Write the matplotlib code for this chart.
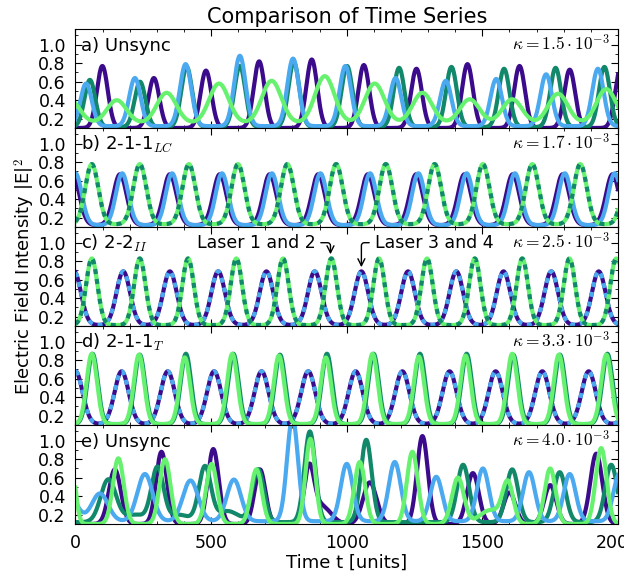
import numpy as np
import matplotlib
matplotlib.use("Agg")
import matplotlib.pyplot as plt
from matplotlib.ticker import MultipleLocator
from matplotlib.transforms import Bbox, TransformedBbox

plt.rcParams["mathtext.fontset"] = "cm"
plt.rcParams["xtick.direction"] = "in"
plt.rcParams["ytick.direction"] = "in"

PURPLE = "#3b0b8c"
TEAL = "#12886a"
BLUE = "#4aa9ef"
LGREEN = "#66f26e"

t = np.linspace(0, 2000, 4001)

# ---- peak times / peak heights ----
# a) Unsync, kappa = 1.5e-3
a_purple_t = [-95, 99, 289, 481, 677, 871, 1063, 1257, 1445, 1637, 1822, 2010]
a_purple_h = [0.5, 0.77, 0.64, 0.72, 0.82, 0.84, 0.78, 0.74, 0.79, 0.77, 0.73, 0.75]
a_teal_t = [53, 238, 410, 606, 805, 1001, 1193, 1386, 1580, 1770, 1950]
a_teal_h = [0.62, 0.6, 0.76, 0.77, 0.81, 0.77, 0.75, 0.76, 0.74, 0.75, 0.76]
a_blue_t = [39, 219, 406, 606, 802, 995, 1180, 1365, 1551, 1735, 1926]
a_blue_h = [0.58, 0.64, 0.79, 0.88, 0.85, 0.77, 0.64, 0.61, 0.63, 0.68, 0.74]
a_lgreen_t = [-20, 152, 336, 529, 723, 919, 1103, 1279, 1453, 1610, 1779, 1957]
a_lgreen_h = [0.4, 0.4, 0.48, 0.58, 0.61, 0.66, 0.58, 0.48, 0.41, 0.41, 0.47, 0.52]

# b) 2-1-1 LC, kappa = 1.7e-3
b_green_t = [60, 237, 418, 599, 781, 961, 1144, 1324, 1502, 1684, 1861, 2041]
b_green_h = [0.78] * 12
b_purple_t = [-10, 164, 348, 532, 716, 895, 1078, 1256, 1434, 1612, 1796, 1980]
b_purple_h = [0.67] * 12
b_blue_t = [0, 172, 356, 540, 724, 903, 1086, 1264, 1442, 1620, 1804, 1988]
b_blue_h = [0.68] * 12

# c) 2-2 II, kappa = 2.5e-3
c_green_t = [60, 237, 415, 593, 765, 943, 1119, 1296, 1472, 1647, 1821, 1993]
c_green_h = [0.83] * 12
c_purple_t = [-5, 176, 348, 526, 704, 882, 1054, 1226, 1404, 1578, 1754, 1929]
c_purple_h = [0.69] * 12

# d) 2-1-1 T, kappa = 3.3e-3
d_lgreen_t = [60, 234, 403, 578, 750, 923, 1095, 1266, 1438, 1610, 1782, 1957]
d_lgreen_h = [0.87, 0.86, 0.83, 0.87, 0.85, 0.83, 0.87, 0.84, 0.85, 0.87, 0.86, 0.86]
d_teal_t = [63, 237, 407, 582, 754, 927, 1099, 1270, 1442, 1614, 1786, 1961]
d_teal_h = [0.87, 0.86, 0.87, 0.87, 0.86, 0.87, 0.87, 0.87, 0.87, 0.86, 0.86, 0.87]
d_purple_t = [0, 170, 340, 511, 686, 858, 1033, 1205, 1379, 1549, 1721, 1892, 2064]
d_purple_h = [0.68] * 13

# e) Unsync, kappa = 4.0e-3
e_blue_t = [-25, 90, 256, 424, 584, 800, 1000, 1177, 1330, 1502, 1672, 1822, 2005]
e_blue_h = [0.42, 0.43, 0.64, 0.57, 0.58, 1.25, 0.75, 0.77, 0.61, 0.7, 0.66, 0.64, 0.64]
e_blue_w = [30, 30, 28, 28, 26, 20, 22, 22, 22, 22, 22, 22, 22]
e_purple_t = [145, 317, 508, 680, 861, 905, 1085, 1279, 1465, 1600, 1750, 1920]
e_purple_h = [0.69, 0.88, 0.91, 0.69, 0.66, 0.3, 0.55, 1.05, 0.65, 0.44, 0.52, 0.86]
e_purple_w = [22, 20, 20, 20, 18, 35, 25, 20, 22, 22, 22, 22]
e_teal_t = [121, 220, 302, 380, 477, 560, 673, 864, 1072, 1429, 1610, 1785, 1975]
e_teal_h = [0.58, 0.2, 0.7, 0.2, 0.71, 0.24, 0.69, 1.1, 1.01, 0.74, 0.69, 0.66, 0.74]
e_teal_w = [28, 40, 22, 40, 22, 40, 22, 20, 20, 22, 22, 22, 22]
e_lgreen_t = [-15, 158, 330, 502, 667, 866, 1048, 1242, 1410, 1530, 1594, 1750, 1938]
e_lgreen_h = [0.75, 0.81, 0.8, 0.75, 0.69, 1.02, 0.77, 0.88, 0.6, 0.25, 0.53, 0.7, 0.92]
e_lgreen_w = [15, 20, 20, 20, 20, 18, 20, 20, 22, 40, 20, 20, 20]

kappas = ["1.5", "1.7", "2.5", "3.3", "4.0"]
labels = ["a) Unsync", "b) 2-1-1$_{LC}$", "c) 2-2$_{II}$", "d) 2-1-1$_{T}$", "e) Unsync"]


def pulses(times, heights, width, base):
    widths = np.broadcast_to(width, len(times))
    y = np.full_like(t, base)
    for tc, h, w in zip(times, heights, widths):
        y += (h - base) * np.exp(-0.5 * ((t - tc) / w) ** 2)
    return y


fig, axes = plt.subplots(5, 1, figsize=(6.42, 5.76), dpi=100, sharex=True)
fig.subplots_adjust(left=0.1176, right=0.9626, top=0.9497, bottom=0.0903, hspace=0)
lw = 3
dash = (1.2, 1.2)

ax = axes[0]
ax.plot(t, pulses(a_purple_t, a_purple_h, 20, 0.1), color=PURPLE, lw=lw)
ax.plot(t, pulses(a_teal_t, a_teal_h, 20, 0.11), color=TEAL, lw=lw)
ax.plot(t, pulses(a_blue_t, a_blue_h, 21, 0.12), color=BLUE, lw=lw)
ax.plot(t, pulses(a_lgreen_t, a_lgreen_h, 36, 0.15), color=LGREEN, lw=lw)

ax = axes[1]
ax.plot(t, pulses(b_purple_t, b_purple_h, 24, 0.12), color=PURPLE, lw=lw)
ax.plot(t, pulses(b_blue_t, b_blue_h, 23, 0.12), color=BLUE, lw=lw)
yg = pulses(b_green_t, b_green_h, 24, 0.13)
ax.plot(t, yg, color=LGREEN, lw=lw)
ax.plot(t, yg, color=TEAL, lw=lw, dashes=dash)

ax = axes[2]
yp = pulses(c_purple_t, c_purple_h, 25, 0.11)
ax.plot(t, yp, color=PURPLE, lw=lw)
ax.plot(t, yp, color=BLUE, lw=lw, dashes=dash)
yg = pulses(c_green_t, c_green_h, 21, 0.11)
ax.plot(t, yg, color=LGREEN, lw=lw)
ax.plot(t, yg, color=TEAL, lw=lw, dashes=dash)
ax.annotate("Laser 1 and 2", xy=(940, 0.86), xytext=(665, 1.0), fontsize=12.5,
            ha="center", va="center",
            arrowprops=dict(arrowstyle="->", color="k", lw=1, shrinkB=1,
                            connectionstyle="angle,angleA=0,angleB=90,rad=3"))
ax.annotate("Laser 3 and 4", xy=(1054, 0.72), xytext=(1322, 1.0), fontsize=12.5,
            ha="center", va="center",
            arrowprops=dict(arrowstyle="->", color="k", lw=1, shrinkB=1,
                            connectionstyle="angle,angleA=0,angleB=90,rad=3"))

ax = axes[3]
yp = pulses(d_purple_t, d_purple_h, 26, 0.11)
ax.plot(t, yp, color=PURPLE, lw=lw)
ax.plot(t, yp, color=BLUE, lw=lw, dashes=dash)
ax.plot(t, pulses(d_teal_t, d_teal_h, 19, 0.11), color=TEAL, lw=lw)
ax.plot(t, pulses(d_lgreen_t, d_lgreen_h, 19, 0.11), color=LGREEN, lw=lw)

ax = axes[4]
ax.plot(t, pulses(e_purple_t, e_purple_h, e_purple_w, 0.1), color=PURPLE, lw=lw)
ax.plot(t, pulses(e_teal_t, e_teal_h, e_teal_w, 0.12), color=TEAL, lw=lw)
ax.plot(t, pulses(e_blue_t, e_blue_h, e_blue_w, 0.13), color=BLUE, lw=lw)
ax.plot(t, pulses(e_lgreen_t, e_lgreen_h, e_lgreen_w, 0.1), color=LGREEN, lw=lw)

for ax, lab, k in zip(axes, labels, kappas):
    ax.set_xlim(0, 2000)
    ax.set_ylim(0.1, 1.17)
    ax.set_yticks([0.2, 0.4, 0.6, 0.8, 1.0])
    ax.yaxis.set_minor_locator(MultipleLocator(0.1))
    ax.xaxis.set_major_locator(MultipleLocator(500))
    ax.xaxis.set_minor_locator(MultipleLocator(100))
    ax.tick_params(which="both", top=True, right=True, labelsize=12.5)
    ax.tick_params(which="major", length=5, pad=7)
    ax.tick_params(which="minor", length=2.5)
    ax.text(0.011, 0.78, lab, transform=ax.transAxes, fontsize=13, va="baseline")
    ax.text(0.985, 0.78, r"$\kappa = " + k + r"\cdot 10^{-3}$", transform=ax.transAxes,
            fontsize=12.5, ha="right", va="baseline")

axes[0].set_title("Comparison of Time Series", fontsize=15, pad=4)
fig.text(0.039, 0.52, "Electric Field Intensity |E|$^2$", rotation=90,
         ha="center", va="center", fontsize=13)
fig.text(0.54, 0.023, "Time t [units]", ha="center", va="center", fontsize=13)

# the original picture is cut just right of the last tick label
clip = TransformedBbox(Bbox([[0, 0], [624 / 642, 1]]), fig.transFigure)
for lbl in axes[4].get_xticklabels():
    lbl.set_clip_on(True)
    lbl.set_clip_box(clip)

fig.savefig("out.png", dpi=100)
